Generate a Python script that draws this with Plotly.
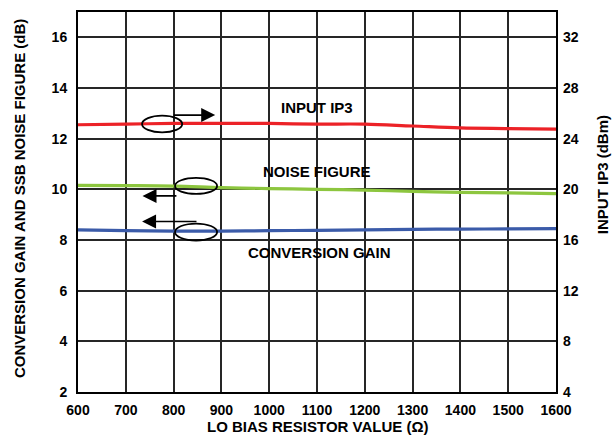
import plotly.graph_objects as go

resistor = [600, 700, 800, 900, 1000, 1100, 1200, 1300, 1400, 1500, 1600]
input_ip3_dbm = [25.1, 25.15, 25.2, 25.2, 25.2, 25.15, 25.15, 25.0, 24.85, 24.8, 24.75]
noise_figure_db = [10.16, 10.15, 10.13, 10.07, 10.03, 10.0, 9.97, 9.92, 9.88, 9.86, 9.83]
conv_gain_db = [8.4, 8.37, 8.35, 8.35, 8.37, 8.38, 8.4, 8.42, 8.43, 8.44, 8.45]

x_ticks = [600, 700, 800, 900, 1000, 1100, 1200, 1300, 1400, 1500, 1600]
left_ticks = [2, 4, 6, 8, 10, 12, 14, 16]
right_ticks = [4, 8, 12, 16, 20, 24, 28, 32]

FONT = "Liberation Sans, Arial, sans-serif"
tickfont = dict(family=FONT, size=14, color="black", weight="bold")

fig = go.Figure()
fig.add_trace(go.Scatter(x=resistor, y=input_ip3_dbm, mode="lines", yaxis="y2",
                         line=dict(color="#EC2227", width=3.2, shape="spline"), name="INPUT IP3"))
fig.add_trace(go.Scatter(x=resistor, y=noise_figure_db, mode="lines",
                         line=dict(color="#8DC63F", width=3.2, shape="spline"), name="NOISE FIGURE"))
fig.add_trace(go.Scatter(x=resistor, y=conv_gain_db, mode="lines",
                         line=dict(color="#3B5BA9", width=3.2, shape="spline"), name="CONVERSION GAIN"))

grid = "#262626"
fig.update_layout(
    width=613, height=445,
    margin=dict(l=78, r=57, t=10, b=53),
    paper_bgcolor="white", plot_bgcolor="white",
    showlegend=False,
    xaxis=dict(range=[600, 1600], tickvals=x_ticks, ticktext=[str(v) for v in x_ticks],
               showgrid=True, gridcolor=grid, gridwidth=1.5, zeroline=False,
               showline=True, mirror=True, linecolor="black", linewidth=2,
               ticks="", tickfont=tickfont, ticklabelstandoff=4),
    yaxis=dict(range=[2, 17], tickvals=left_ticks, ticktext=[str(v) for v in left_ticks],
               showgrid=True, gridcolor=grid, gridwidth=1.5, zeroline=False,
               showline=True, mirror=True, linecolor="black", linewidth=2,
               ticks="", tickfont=tickfont, ticklabelstandoff=6),
    yaxis2=dict(range=[4, 34], tickvals=right_ticks, ticktext=[str(v) for v in right_ticks],
                overlaying="y", side="right", showgrid=False, zeroline=False,
                showline=False, ticks="", tickfont=tickfont, ticklabelstandoff=6),
)

# ellipses
for (x0, x1, y0, y1) in [(734, 818, 12.25, 12.91), (803, 891, 9.82, 10.45), (803, 891, 7.98, 8.65)]:
    fig.add_shape(type="circle", xref="x", yref="y", x0=x0, x1=x1, y0=y0, y1=y1,
                  line=dict(color="black", width=1.8))

# arrows
for (tx, ty, sx, sy) in [(887, 12.93, 797, 12.93), (735, 9.74, 809, 9.74), (734, 8.73, 851, 8.73)]:
    fig.add_annotation(x=tx, y=ty, ax=sx, ay=sy, xref="x", yref="y", axref="x", ayref="y",
                       text="", showarrow=True, arrowhead=2, arrowsize=1.75, arrowwidth=1.6,
                       arrowcolor="black")

lblfont = dict(family=FONT, size=15, color="black", weight="bold")
for (txt, x, y) in [("INPUT IP3", 1100, 13.25), ("NOISE FIGURE", 1101, 10.7), ("CONVERSION GAIN", 1106, 7.5)]:
    fig.add_annotation(x=x, y=y, xref="x", yref="y", text=txt, showarrow=False, font=lblfont)

fig.add_annotation(x=0.5, y=-0.0916, xref="paper", yref="paper", text="LO BIAS RESISTOR VALUE (Ω)",
                   showarrow=False, font=lblfont, yanchor="middle")
fig.add_annotation(x=-0.121, y=0.508, xref="paper", yref="paper",
                   text="CONVERSION GAIN AND SSB NOISE FIGURE (dB)", textangle=-90,
                   showarrow=False, font=lblfont, xanchor="center", yanchor="middle")
fig.add_annotation(x=1.096, y=0.573, xref="paper", yref="paper", text="INPUT IP3 (dBm)", textangle=-90,
                   showarrow=False, font=lblfont, xanchor="center", yanchor="middle")

fig.write_html("out.html", config={"displayModeBar": False},
               post_script="document.body.style.margin='0px';document.body.style.overflow='hidden';")
